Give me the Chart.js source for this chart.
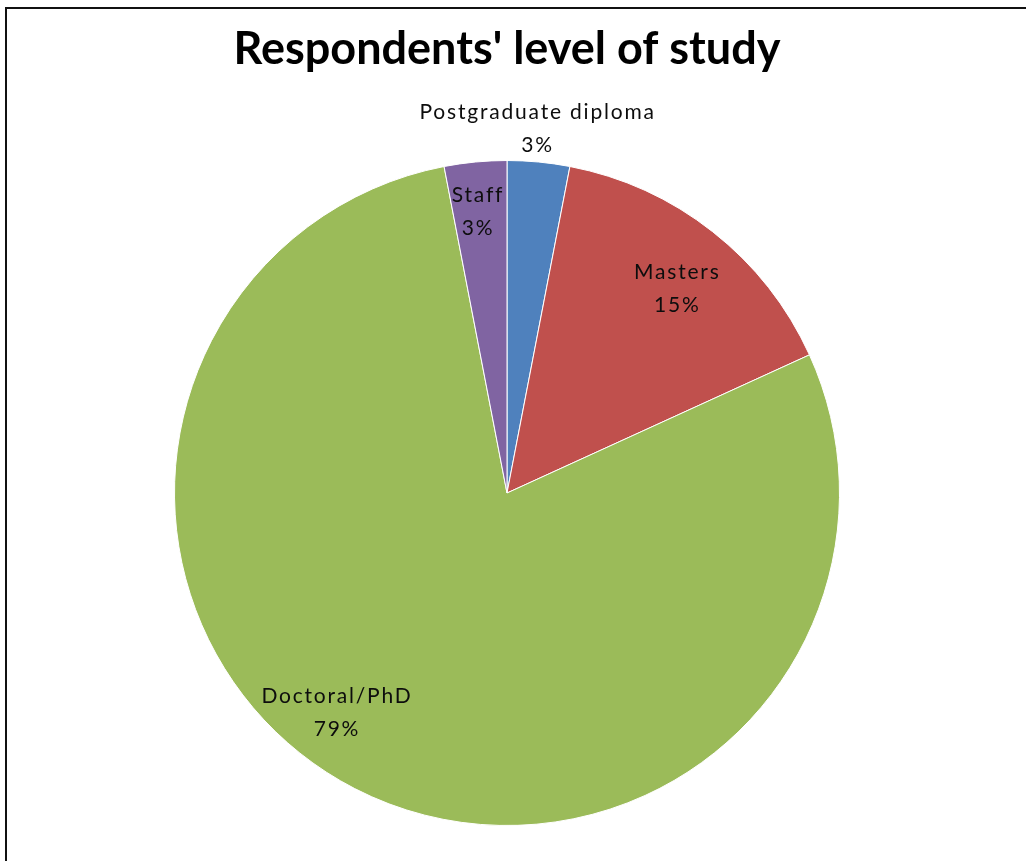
<!DOCTYPE html>
<html>
<head>
<meta charset="utf-8">
<script src="https://cdn.jsdelivr.net/npm/chart.js@4"></script>
<style>
    html, body { margin: 0; padding: 0; background: #fff; overflow: hidden; }
    #wrap { position: relative; width: 1026px; height: 861px; }
    #frame {
        position: absolute; left: 5px; top: 7px; width: 1100px; height: 1000px;
        border-left: 2px solid #111; border-top: 2px solid #111;
    }
    canvas { position: absolute; left: 0; top: 0; }
</style>
</head>
<body>
<div id="wrap">
    <div id="frame"></div>
    <canvas id="levelChart" width="1026" height="861"></canvas>
</div>
<script>
// data
const categories = ["Postgraduate diploma", "Masters", "Doctoral/PhD", "Staff"];
const respondents = [1, 5, 26, 1];
const sliceColors = ["#4F81BD", "#C0504D", "#9BBB59", "#8064A2"];

// label placement: radius factor and position inside the slice (0..1)
const labelRadius = [1.10, 0.80, 0.835, 0.85];
const labelAngleFrac = [0.44, 0.53, 0.537, 0.46];

const total = respondents.reduce((a, b) => a + b, 0);

// ---------------------------
// slice labels
// ---------------------------
const sliceLabels = {
    id: "sliceLabels",
    afterDatasetsDraw(chart) {
        const ctx = chart.ctx;
        const arcs = chart.getDatasetMeta(0).data;
        ctx.save();
        ctx.font = "21px Lato";
        ctx.letterSpacing = "1.8px";
        ctx.fillStyle = "#0d0d0d";
        ctx.textAlign = "center";
        ctx.textBaseline = "middle";
        arcs.forEach((arc, i) => {
            const p = arc.getProps(["x", "y", "startAngle", "endAngle", "outerRadius"], true);
            const a = p.startAngle + (p.endAngle - p.startAngle) * labelAngleFrac[i];
            const r = p.outerRadius * labelRadius[i];
            const cx = p.x + Math.cos(a) * r;
            const cy = p.y + Math.sin(a) * r;
            const pct = Math.round(respondents[i] / total * 100) + "%";
            ctx.fillText(categories[i], cx, cy - 16.5);
            ctx.fillText(pct, cx, cy + 16.5);
        });
        ctx.restore();
    }
};

const chartEl = document.getElementById("levelChart");
new Chart(chartEl.getContext("2d"), {
    type: "pie",
    data: {
        labels: categories,
        datasets: [{
            data: respondents,
            backgroundColor: sliceColors,
            borderColor: "#ffffff",
            borderWidth: 1
        }]
    },
    options: {
        responsive: false,
        animation: false,
        layout: { padding: { left: 174, right: 186, top: 18, bottom: 35 } },
        plugins: {
            legend: { display: false },
            tooltip: { enabled: false },
            title: {
                display: true,
                text: "Respondents' level of study",
                color: "#000",
                font: { family: "Lato", size: 45, weight: "bold", lineHeight: 1.2 },
                padding: { top: 4, bottom: 84 }
            }
        }
    },
    plugins: [sliceLabels]
});
</script>
</body>
</html>
